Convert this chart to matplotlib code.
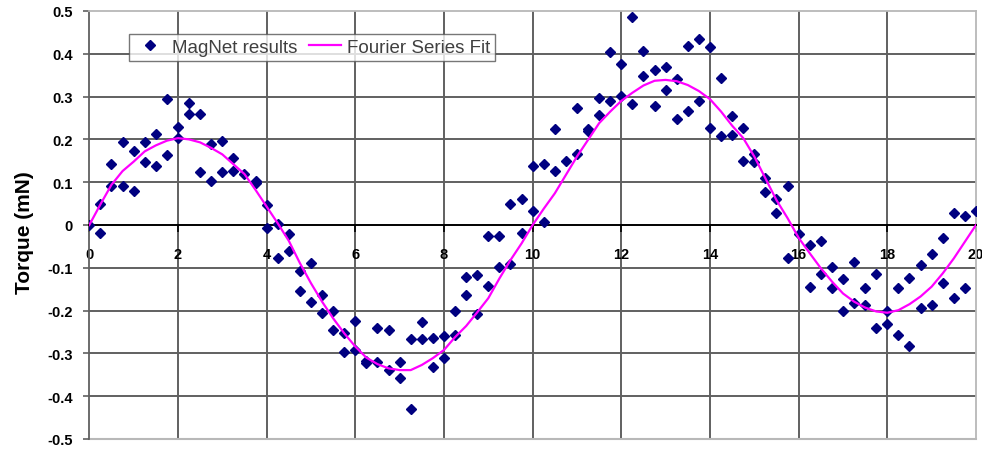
import matplotlib
matplotlib.use("Agg")
import matplotlib.pyplot as plt

plt.rcParams['font.family'] = ['Liberation Sans', 'DejaVu Sans']

# MagNet simulation results (two runs share most x positions)
x_pts = [0,
         0.25, 0.25, 0.5, 0.5, 0.75, 0.75, 1.0, 1.0, 1.25, 1.25, 1.5, 1.5,
         1.75, 1.75, 2.0, 2.0, 2.25, 2.25, 2.5, 2.5, 2.75, 2.75, 3.0, 3.0,
         3.25, 3.25, 3.5, 3.75, 3.75, 4.0, 4.0, 4.25, 4.25, 4.5, 4.5,
         4.75, 4.75, 5.0, 5.0, 5.25, 5.25, 5.5, 5.5, 5.75, 5.75, 6.0, 6.0,
         6.25, 6.25, 6.5, 6.5, 6.75, 6.75, 7.0, 7.0, 7.25, 7.25, 7.5, 7.5,
         7.75, 7.75, 8.0, 8.0, 8.25, 8.25, 8.5, 8.5, 8.75, 8.75, 9.0, 9.0,
         9.25, 9.25, 9.5, 9.5, 9.75, 9.75, 10.0, 10.0, 10.25, 10.25,
         10.5, 10.5, 10.75, 11.0, 11.0, 11.25, 11.25, 11.5, 11.5,
         11.75, 11.75, 12.0, 12.0, 12.25, 12.25, 12.5, 12.5, 12.75, 12.75,
         13.0, 13.0, 13.25, 13.25, 13.5, 13.5, 13.75, 13.75, 14.0, 14.0,
         14.25, 14.25, 14.5, 14.5, 14.75, 14.75, 15.0, 15.0, 15.25, 15.25,
         15.5, 15.5, 15.75, 15.75, 16.0, 16.25, 16.25, 16.5, 16.5,
         16.75, 16.75, 17.0, 17.0, 17.25, 17.25, 17.5, 17.5, 17.75, 17.75,
         18.0, 18.0, 18.25, 18.25, 18.5, 18.5, 18.75, 18.75, 19.0, 19.0,
         19.25, 19.25, 19.5, 19.5, 19.75, 19.75, 20.0]
y_pts = [0,
         0.048, -0.019, 0.090, 0.142, 0.193, 0.090, 0.174, 0.079, 0.195, 0.148, 0.213, 0.139,
         0.294, 0.164, 0.228, 0.203, 0.284, 0.259, 0.259, 0.123, 0.189, 0.103, 0.197, 0.123,
         0.157, 0.127, 0.119, 0.103, 0.097, 0.047, -0.006, 0.003, -0.076, -0.022, -0.061,
         -0.107, -0.154, -0.088, -0.181, -0.164, -0.206, -0.202, -0.245, -0.253, -0.297, -0.224, -0.292,
         -0.318, -0.323, -0.240, -0.319, -0.245, -0.339, -0.319, -0.358, -0.267, -0.431, -0.227, -0.267,
         -0.263, -0.331, -0.259, -0.310, -0.202, -0.258, -0.122, -0.164, -0.117, -0.209, -0.025, -0.142,
         -0.025, -0.097, 0.048, -0.091, 0.060, -0.019, 0.138, 0.032, 0.143, 0.006,
         0.224, 0.127, 0.150, 0.273, 0.165, 0.224, 0.220, 0.296, 0.256,
         0.405, 0.290, 0.376, 0.301, 0.487, 0.283, 0.407, 0.348, 0.361, 0.279,
         0.368, 0.315, 0.341, 0.247, 0.419, 0.267, 0.435, 0.290, 0.415, 0.226,
         0.344, 0.209, 0.255, 0.210, 0.226, 0.150, 0.166, 0.148, 0.109, 0.076,
         0.060, 0.028, 0.090, -0.076, -0.022, -0.047, -0.144, -0.037, -0.115,
         -0.097, -0.148, -0.125, -0.202, -0.086, -0.183, -0.148, -0.187, -0.115, -0.240,
         -0.202, -0.232, -0.148, -0.257, -0.123, -0.282, -0.093, -0.193, -0.068, -0.187,
         -0.030, -0.136, 0.027, -0.171, 0.020, -0.148, 0.033]

# Fourier series fit, read every 0.25
x_fit = [i * 0.25 for i in range(81)]
y_fit = [0.0, 0.048, 0.094, 0.126, 0.148, 0.172, 0.186, 0.197, 0.203, 0.200,
         0.193, 0.180, 0.165, 0.142, 0.119, 0.082, 0.043, 0.004, -0.037, -0.089,
         -0.136, -0.179, -0.218, -0.253, -0.284, -0.310, -0.325, -0.335, -0.339, -0.339,
         -0.327, -0.311, -0.292, -0.262, -0.236, -0.204, -0.171, -0.125, -0.082, -0.043,
         0.0, 0.038, 0.074, 0.117, 0.160, 0.199, 0.238, 0.265, 0.290, 0.309,
         0.326, 0.337, 0.339, 0.336, 0.327, 0.313, 0.294, 0.265, 0.232, 0.203,
         0.160, 0.109, 0.058, 0.016, -0.030, -0.066, -0.101, -0.132, -0.160, -0.179,
         -0.193, -0.202, -0.205, -0.199, -0.185, -0.167, -0.144, -0.113, -0.078, -0.039,
         0.0]

x_ticks = [0, 2, 4, 6, 8, 10, 12, 14, 16, 18, 20]
y_ticks = [-0.5, -0.4, -0.3, -0.2, -0.1, 0, 0.1, 0.2, 0.3, 0.4, 0.5]
y_labels = ['-0.5', '-0.4', '-0.3', '-0.2', '-0.1', '0', '0.1', '0.2', '0.3', '0.4', '0.5']

fig = plt.figure(figsize=(9.82, 4.52), dpi=100)
ax = fig.add_axes([89.3 / 982, 12 / 452, 886.7 / 982, 428 / 452])

ax.set_xlim(0, 20)
ax.set_ylim(-0.5, 0.5)

# grid (interior lines only, border drawn lighter)
for v in x_ticks[1:-1]:
    ax.axvline(v, color='#606060', lw=1.4, zorder=1)
for v in y_ticks[1:-1]:
    if v != 0:
        ax.axhline(v, color='#606060', lw=1.4, zorder=1)

ax.plot(x_pts, y_pts, linestyle='none', marker='D', ms=5, color='#000080',
        label='MagNet results', zorder=3)
ax.plot(x_fit, y_fit, color='#ff00ff', lw=1.6, label='Fourier Series Fit', zorder=4)

for s in ['top', 'right']:
    ax.spines[s].set_color('#b8b8b8')
    ax.spines[s].set_linewidth(1.3)
ax.spines['left'].set_color('#606060')
ax.spines['left'].set_linewidth(1.3)
ax.spines['bottom'].set_position(('data', 0))
ax.spines['bottom'].set_color('black')
ax.spines['bottom'].set_linewidth(1.4)
ax.axhline(-0.5, color='#b8b8b8', lw=1.5, zorder=1, clip_on=False)

ax.set_xticks(x_ticks)
ax.set_xticklabels([str(t) for t in x_ticks], fontsize=10.5, fontweight='bold')
ax.set_yticks(y_ticks)
ax.set_yticklabels(y_labels, fontsize=10.5, fontweight='bold')
ax.tick_params(axis='x', direction='out', length=5, width=1.2, pad=11, color='black')
ax.tick_params(axis='y', direction='out', length=4, width=1.2, pad=8, color='#606060')

fig.text(24 / 982, 1 - 233 / 452, 'Torque (mN)', rotation=90, fontsize=15,
         fontweight='bold', ha='center', va='center')

leg = ax.legend(loc='upper left', bbox_to_anchor=(0.0448, 0.946), ncol=2,
                frameon=True, fancybox=False, fontsize=13.5, handlelength=1.7,
                columnspacing=0.6, handletextpad=0.35, borderpad=0.25,
                borderaxespad=0)
leg.get_frame().set_edgecolor('#555555')
leg.get_frame().set_linewidth(1.0)
for t in leg.get_texts():
    t.set_color('#404040')

fig.savefig('out.png', dpi=100)
